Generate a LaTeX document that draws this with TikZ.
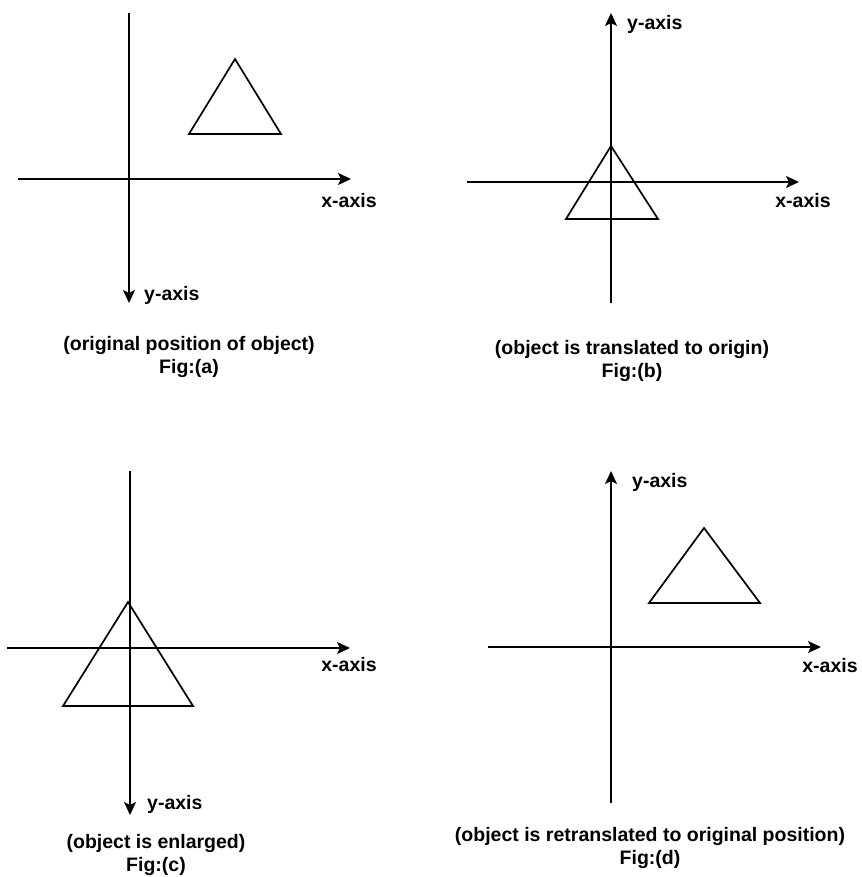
\documentclass[tikz,border=0pt]{standalone}
\usepackage{fontspec}
\setmainfont{Liberation Sans}
\usetikzlibrary{arrows.meta}
\tikzset{
  axis/.style={line width=1.7pt, black},
  axisarrow/.style={axis, -{Stealth[length=13pt,width=12pt,inset=3pt]}},
  tri/.style={line width=1.7pt, black, line join=miter},
  lbl/.style={font=\fontsize{19.5}{22}\selectfont\bfseries, inner sep=0pt},
  captxt/.style={font=\fontsize{19.5}{23}\selectfont\bfseries, inner sep=0pt, align=center}
}
\begin{document}
\begin{tikzpicture}[x=1pt,y=-1pt]
\useasboundingbox[fill=white] (0,0) rectangle (861,877);
% ---------- (a)
\coordinate (a-top) at (129,13);
\coordinate (a-bot) at (129,303);
\coordinate (a-left) at (18,179);
\coordinate (a-right) at (351,179);
\draw[axisarrow] (a-top) -- (a-bot);
\draw[axisarrow] (a-left) -- (a-right);
\coordinate (a-t1) at (235,59);
\coordinate (a-t2) at (281,134);
\coordinate (a-t3) at (189,134);
\draw[tri] (a-t1) -- (a-t2) -- (a-t3) -- cycle;
\node[lbl] (a-x) at (349,201) {x-axis};
\node[lbl, anchor=west] (a-y) at (144,295) {y-axis};
\node[captxt] (a-cap) at (189,357) {(original position of object)\\Fig:(a)};
% ---------- (b)
\coordinate (b-top) at (611,13);
\coordinate (b-bot) at (611,303);
\coordinate (b-left) at (467,182);
\coordinate (b-right) at (799,182);
\draw[axisarrow] (b-bot) -- (b-top);
\draw[axisarrow] (b-left) -- (b-right);
\coordinate (b-t1) at (611,146);
\coordinate (b-t2) at (658,219);
\coordinate (b-t3) at (566,219);
\draw[tri] (b-t1) -- (b-t2) -- (b-t3) -- cycle;
\node[lbl] (b-x) at (803,201) {x-axis};
\node[lbl, anchor=west] (b-y) at (627,24) {y-axis};
\node[captxt] (b-cap) at (632,361) {(object is translated to origin)\\Fig:(b)};
% ---------- (c)
\coordinate (c-top) at (130,471);
\coordinate (c-bot) at (130,815);
\coordinate (c-left) at (7,648);
\coordinate (c-right) at (350,648);
\draw[axisarrow] (c-top) -- (c-bot);
\draw[axisarrow] (c-left) -- (c-right);
\coordinate (c-t1) at (128,602);
\coordinate (c-t2) at (193,706);
\coordinate (c-t3) at (63,706);
\draw[tri] (c-t1) -- (c-t2) -- (c-t3) -- cycle;
\node[lbl] (c-x) at (349,665) {x-axis};
\node[lbl, anchor=west] (c-y) at (147,804) {y-axis};
\node[captxt] (c-cap) at (156,855) {(object is enlarged)\\Fig:(c)};
% ---------- (d)
\coordinate (d-top) at (611,471);
\coordinate (d-bot) at (611,803);
\coordinate (d-left) at (488,647);
\coordinate (d-right) at (821,647);
\draw[axisarrow] (d-bot) -- (d-top);
\draw[axisarrow] (d-left) -- (d-right);
\coordinate (d-t1) at (704,528);
\coordinate (d-t2) at (760,603);
\coordinate (d-t3) at (649,603);
\draw[tri] (d-t1) -- (d-t2) -- (d-t3) -- cycle;
\node[lbl] (d-x) at (830,666) {x-axis};
\node[lbl, anchor=west] (d-y) at (632,482) {y-axis};
\node[captxt] (d-cap) at (650,848) {(object is retranslated to original position)\\Fig:(d)};
\end{tikzpicture}
\end{document}
